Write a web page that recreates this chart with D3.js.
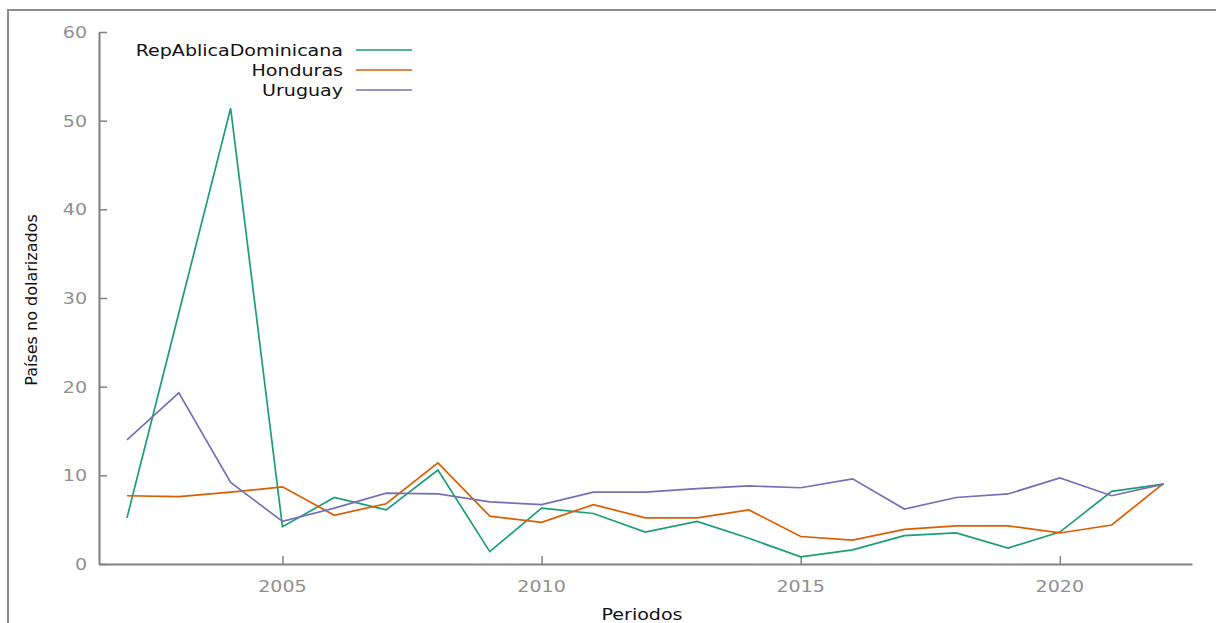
<!DOCTYPE html>
<html>
<head>
<meta charset="utf-8">
<script src="https://cdn.jsdelivr.net/npm/d3@7"></script>
<style>
  html, body { margin: 0; padding: 0; background: #fff; }
  svg { display: block; }
</style>
</head>
<body>
<svg id="chart" width="1216" height="623"></svg>
<script>
// Years on the horizontal axis
const years = [2002, 2003, 2004, 2005, 2006, 2007, 2008, 2009, 2010, 2011, 2012,
               2013, 2014, 2015, 2016, 2017, 2018, 2019, 2020, 2021, 2022];

// Series values per country
const repDominicana = [5.2, 28.3, 51.4, 4.2, 7.5, 6.1, 10.6, 1.4, 6.3, 5.7, 3.6,
                       4.8, 2.9, 0.8, 1.6, 3.2, 3.5, 1.8, 3.6, 8.2, 9.0];
const honduras = [7.7, 7.6, 8.1, 8.7, 5.5, 6.8, 11.4, 5.4, 4.7, 6.7, 5.2,
                  5.2, 6.1, 3.1, 2.7, 3.9, 4.3, 4.3, 3.5, 4.4, 9.1];
const uruguay = [14.0, 19.3, 9.2, 4.8, 6.3, 8.0, 7.9, 7.0, 6.7, 8.1, 8.1,
                 8.5, 8.8, 8.6, 9.6, 6.2, 7.5, 7.9, 9.7, 7.7, 9.0];

const seriesNames = ["RepAblicaDominicana", "Honduras", "Uruguay"];
const seriesColors = ["#1b9e77", "#d95f02", "#7570b3"];

const yTicks = [0, 10, 20, 30, 40, 50, 60];
const xTicks = [2005, 2010, 2015, 2020];

const series = [repDominicana, honduras, uruguay].map((vals, i) => ({
  name: seriesNames[i],
  color: seriesColors[i],
  values: years.map((yr, j) => ({ year: yr, value: vals[j] }))
}));

const svg = d3.select("#chart");
const FONT = "'DejaVu Sans', Verdana, sans-serif";
const STRETCH = 1.19;

const x = d3.scaleLinear().domain([2001.46, 2022.55]).range([99, 1192]);
const y = d3.scaleLinear().domain([0, 60]).range([564, 32]);

// Horizontal text with the wide letterforms used throughout the figure
function label(sel, px, py, txt, anchor, color, size) {
  const g = sel.append("g").attr("transform", `translate(${px},${py}) scale(${STRETCH},1)`);
  g.append("text")
    .attr("text-anchor", anchor)
    .attr("font-family", FONT)
    .attr("font-size", size || 16)
    .attr("fill", color)
    .text(txt);
  return g;
}

// Outer frame (top and left edges)
svg.append("path")
  .attr("d", "M8,623 L8,10 L1216,10")
  .attr("fill", "none")
  .attr("stroke", "#8a8a8a")
  .attr("stroke-width", 2);

// Axes with inward ticks
const axisColor = "#808080";
const yAxis = svg.append("g")
  .attr("transform", `translate(${x.range()[0]},0)`)
  .call(d3.axisLeft(y).tickValues(yTicks).tickSize(-8).tickSizeOuter(0).tickFormat(""));
const xAxis = svg.append("g")
  .attr("transform", `translate(0,${y(0)})`)
  .call(d3.axisBottom(x).tickValues(xTicks).tickSize(-8).tickSizeOuter(0).tickFormat(""));
[yAxis, xAxis].forEach(a => {
  a.select(".domain").attr("stroke", axisColor).attr("stroke-width", 2);
  a.selectAll(".tick line").attr("stroke", axisColor).attr("stroke-width", 1.5);
});

// Tick labels
const tickColor = "#8f8f8f";
yTicks.forEach(t => label(svg, 87, y(t) + 6, String(t), "end", tickColor));
xTicks.forEach(t => label(svg, x(t), 592, String(t), "middle", tickColor));

// Axis titles
label(svg, 642, 620, "Periodos", "middle", "#111");
svg.append("text")
  .attr("transform", "translate(37,300) rotate(-90)")
  .attr("text-anchor", "middle")
  .attr("font-family", FONT)
  .attr("font-size", 16)
  .attr("fill", "#111")
  .text("Países no dolarizados");

// Series lines
const line = d3.line().x(d => x(d.year)).y(d => y(d.value));
svg.append("g").selectAll("path")
  .data(series)
  .join("path")
  .attr("d", d => line(d.values))
  .attr("fill", "none")
  .attr("stroke", d => d.color)
  .attr("stroke-width", 1.7)
  .attr("stroke-linejoin", "miter");

// Legend
const legend = svg.append("g");
series.forEach((s, i) => {
  const ly = 50 + i * 20;
  label(legend, 343, ly + 6, s.name, "end", "#111");
  legend.append("line")
    .attr("x1", 356).attr("x2", 412)
    .attr("y1", ly).attr("y2", ly)
    .attr("stroke", s.color)
    .attr("stroke-width", 1.7);
});
</script>
</body>
</html>
